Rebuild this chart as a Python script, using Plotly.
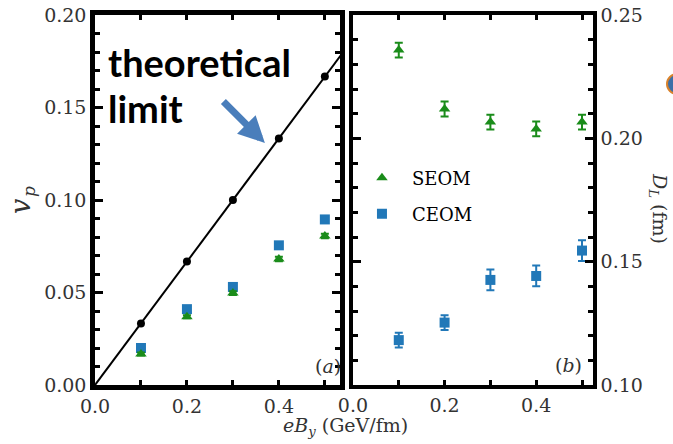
import plotly.graph_objects as go

# ---------------- data ----------------
eB = [0.1, 0.2, 0.3, 0.4, 0.5]
theory_vp = [0.0333, 0.0667, 0.1000, 0.1333, 0.1667]
theory_line_eB = [0.0, 0.6]
theory_line_vp = [0.0, 0.2]

seom_vp = [0.0168, 0.0369, 0.0497, 0.0681, 0.0805]
seom_vp_err = [0.0008, 0.0008, 0.0010, 0.0012, 0.0012]
ceom_vp = [0.0200, 0.0410, 0.0530, 0.0755, 0.0895]
ceom_vp_err = [0.0008, 0.0008, 0.0010, 0.0008, 0.0018]

seom_DL = [0.2358, 0.2119, 0.2066, 0.2038, 0.2066]
seom_DL_err = [0.0030, 0.0030, 0.0030, 0.0030, 0.0030]
ceom_DL = [0.1182, 0.1253, 0.1426, 0.1442, 0.1545]
ceom_DL_err = [0.0030, 0.0030, 0.0042, 0.0042, 0.0042]

GREEN = "#1a8c1a"
BLUE = "#2178b8"
SERIF = "DejaVu Serif"

fig = go.Figure()

# ---- panel (a) ----
fig.add_trace(go.Scatter(x=theory_line_eB, y=theory_line_vp, mode="lines",
                         line=dict(color="black", width=2), showlegend=False,
                         xaxis="x", yaxis="y"))
fig.add_trace(go.Scatter(x=eB, y=theory_vp, mode="markers",
                         marker=dict(color="black", size=8, symbol="circle"),
                         showlegend=False, xaxis="x", yaxis="y"))
fig.add_trace(go.Scatter(x=eB, y=ceom_vp, mode="markers",
                         marker=dict(color=BLUE, size=10, symbol="square"),
                         error_y=dict(type="data", array=ceom_vp_err, color=BLUE,
                                      thickness=2, width=4),
                         showlegend=False, xaxis="x", yaxis="y"))
fig.add_trace(go.Scatter(x=eB, y=seom_vp, mode="markers",
                         marker=dict(color=GREEN, size=10, symbol="triangle-up"),
                         error_y=dict(type="data", array=seom_vp_err, color=GREEN,
                                      thickness=2, width=4),
                         showlegend=False, xaxis="x", yaxis="y"))

# ---- panel (b) ----
fig.add_trace(go.Scatter(x=eB, y=seom_DL, mode="markers", name="SEOM",
                         marker=dict(color=GREEN, size=10, symbol="triangle-up"),
                         error_y=dict(type="data", array=seom_DL_err, color=GREEN,
                                      thickness=2, width=4),
                         legend="legend", xaxis="x2", yaxis="y2"))
fig.add_trace(go.Scatter(x=eB, y=ceom_DL, mode="markers", name="CEOM",
                         marker=dict(color=BLUE, size=10, symbol="square"),
                         error_y=dict(type="data", array=ceom_DL_err, color=BLUE,
                                      thickness=2, width=4),
                         legend="legend2", xaxis="x2", yaxis="y2"))

tickfont = dict(family=SERIF, size=19, color="#333333")

def xax(domain, rng, anchor, lw):
    return dict(domain=domain, range=rng, anchor=anchor, showgrid=False, zeroline=False,
                automargin=False,
                showline=True, linecolor="black", linewidth=lw, mirror="ticks",
                ticks="inside", ticklen=5, tickwidth=3, tickcolor="black",
                tick0=0, dtick=0.2, tickformat=".1f", tickfont=tickfont,
                minor=dict(ticks="inside", ticklen=5, tickwidth=3, tickcolor="black",
                           tick0=0, dtick=0.1))

def yax(rng, anchor, lw, side):
    return dict(range=rng, anchor=anchor, side=side, showgrid=False, zeroline=False,
                automargin=False,
                showline=True, linecolor="black", linewidth=lw, mirror="ticks",
                ticks="inside", ticklen=8, tickwidth=3, tickcolor="black",
                dtick=0.05, tickformat=".2f", tickfont=tickfont,
                minor=dict(ticks="inside", ticklen=5, tickwidth=3, tickcolor="black",
                           dtick=0.01))

legfont = dict(family=SERIF, size=18, color="black")
fig.update_layout(
    width=673, height=444, autosize=False,
    margin=dict(l=95, r=80, t=15, b=59),
    paper_bgcolor="white", plot_bgcolor="white",
    xaxis=xax([0, 0.492], [0, 0.533], "y", 4.5),
    xaxis2=xax([0.518, 1.0], [0, 0.524], "y2", 3.5),
    yaxis=yax([0, 0.2], "x", 4.5, "left"),
    yaxis2=yax([0.10, 0.25], "x2", 3.5, "right"),
    legend=dict(x=0.516, y=(385 - 178) / 370, xanchor="left", yanchor="middle",
                font=legfont, bgcolor="rgba(0,0,0,0)", itemwidth=50),
    legend2=dict(x=0.516, y=(385 - 214) / 370, xanchor="left", yanchor="middle",
                 font=legfont, bgcolor="rgba(0,0,0,0)", itemwidth=50),
)

def ann(**kw):
    d = dict(xanchor="center", yanchor="middle", showarrow=False)
    d.update(kw)
    return d

annotations = [
    ann(text="theoretical", xref="x", yref="y", x=0.025, y=(385 - 62) / 370 * 0.2,
        xanchor="left", font=dict(family="Lato", size=38, color="black", weight="bold")),
    ann(text="limit", xref="x", yref="y", x=0.025, y=(385 - 108) / 370 * 0.2,
        xanchor="left", font=dict(family="Lato", size=38, color="black", weight="bold")),
    dict(text="", xref="x", yref="y", x=(265 - 95) / 460, y=(385 - 143) / 370 * 0.2,
         ax=-43, ay=-43, showarrow=True, arrowhead=2, arrowsize=0.75, arrowwidth=7,
         arrowcolor="#4a7ebb", standoff=0),
    ann(text="(<i>a</i>)", xref="x", yref="y", x=(328 - 95) / 460, y=(385 - 366) / 370 * 0.2,
        font=dict(family=SERIF, size=19, color="#333333")),
    ann(text="(<i>b</i>)", xref="paper", yref="paper", x=(568 - 95) / 498, y=(385 - 365) / 370,
        font=dict(family=SERIF, size=19, color="#333333")),
    ann(text="<i>v</i>", xref="paper", yref="paper",
        x=(20 - 95) / 498, y=(385 - 207) / 370, textangle=-90,
        font=dict(family=SERIF, size=27, color="#333333")),
    ann(text="<i>p</i>", xref="paper", yref="paper",
        x=(29 - 95) / 498, y=(385 - 192) / 370, textangle=-90,
        font=dict(family=SERIF, size=17, color="#333333")),
    ann(text="<i>eB</i><sub><i>y</i></sub> (GeV/fm)", xref="paper", yref="paper",
        x=(345 - 95) / 498, y=(385 - 426) / 370,
        font=dict(family=SERIF, size=19, color="#333333")),
    ann(text="<i>D</i><sub><i>L</i></sub> (fm)", xref="paper", yref="paper",
        x=(659 - 95) / 498, y=(385 - 208) / 370, textangle=90,
        font=dict(family=SERIF, size=19, color="#333333")),
]
fig.update_layout(annotations=annotations)

fig.add_shape(type="circle", xref="paper", yref="paper",
              x0=(667 - 95) / 498, x1=(687 - 95) / 498,
              y0=(385 - 94) / 370, y1=(385 - 74) / 370,
              line=dict(color="#d9822b", width=2), fillcolor="#3d6fa8")

fig.write_html("out.html", config={"displayModeBar": False},
               post_script="document.body.style.margin='0';")
